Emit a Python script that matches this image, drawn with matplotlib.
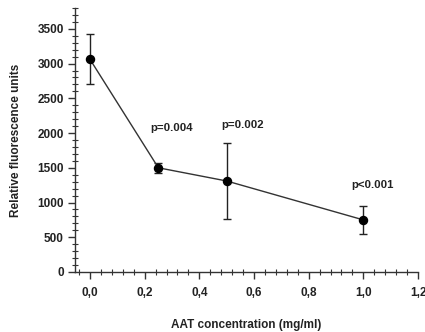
import matplotlib
matplotlib.use("Agg")
import matplotlib.pyplot as plt
from matplotlib.ticker import MultipleLocator, FuncFormatter

conc = [0.0, 0.25, 0.5, 1.0]
rfu = [3060, 1500, 1310, 750]
err = [360, 70, 540, 200]
p_labels = ["p=0.004", "p=0.002", "p<0.001"]
p_x = [0.30, 0.56, 1.035]
p_y = [2000, 2050, 1180]

plt.rcParams['font.family'] = ['Liberation Sans', 'DejaVu Sans']
txt = '#222222'

fig = plt.figure(figsize=(4.25, 3.32), dpi=100)
ax = fig.add_axes([75/425, 60/332, (418-75)/425, (272-8)/332])

ax.errorbar(conc, rfu, yerr=err, color='#333333', lw=1.0, marker='o',
            markersize=5.8, markerfacecolor='black', markeredgecolor='black',
            ecolor='#222222', elinewidth=1.0, capsize=3, capthick=1.0, zorder=3)

for t, x, y in zip(p_labels, p_x, p_y):
    ax.text(x, y, t, ha='center', va='bottom', fontsize=8.2, fontweight='bold', color=txt)

ax.set_xlim(-0.055, 1.2)
ax.set_ylim(0, 3800)
ax.xaxis.set_major_locator(MultipleLocator(0.2))
ax.xaxis.set_minor_locator(MultipleLocator(0.04))
ax.yaxis.set_major_locator(MultipleLocator(500))
ax.yaxis.set_minor_locator(MultipleLocator(100))
ax.xaxis.set_major_formatter(FuncFormatter(lambda v, p: f"{v:.1f}".replace('.', ',')))

for s in ['top', 'right']:
    ax.spines[s].set_visible(False)
for s in ['left', 'bottom']:
    ax.spines[s].set_color('#333333')
    ax.spines[s].set_linewidth(1.0)

ax.tick_params(axis='both', which='major', direction='out', length=5, width=1.0,
               color='#333333', labelsize=8.5, labelcolor=txt, pad=3)
ax.tick_params(axis='both', which='minor', direction='inout', length=4, width=0.8,
               color='#333333')
ax.tick_params(axis='x', which='major', pad=6)
for lab in ax.get_xticklabels() + ax.get_yticklabels():
    lab.set_fontweight('bold')

ax.set_xlabel("AAT concentration (mg/ml)", fontsize=8.5, fontweight='bold', color=txt, labelpad=14)
ax.set_ylabel("Relative fluorescence units", fontsize=8.5, fontweight='bold', color=txt, labelpad=11)

fig.savefig("out.png", dpi=100)
